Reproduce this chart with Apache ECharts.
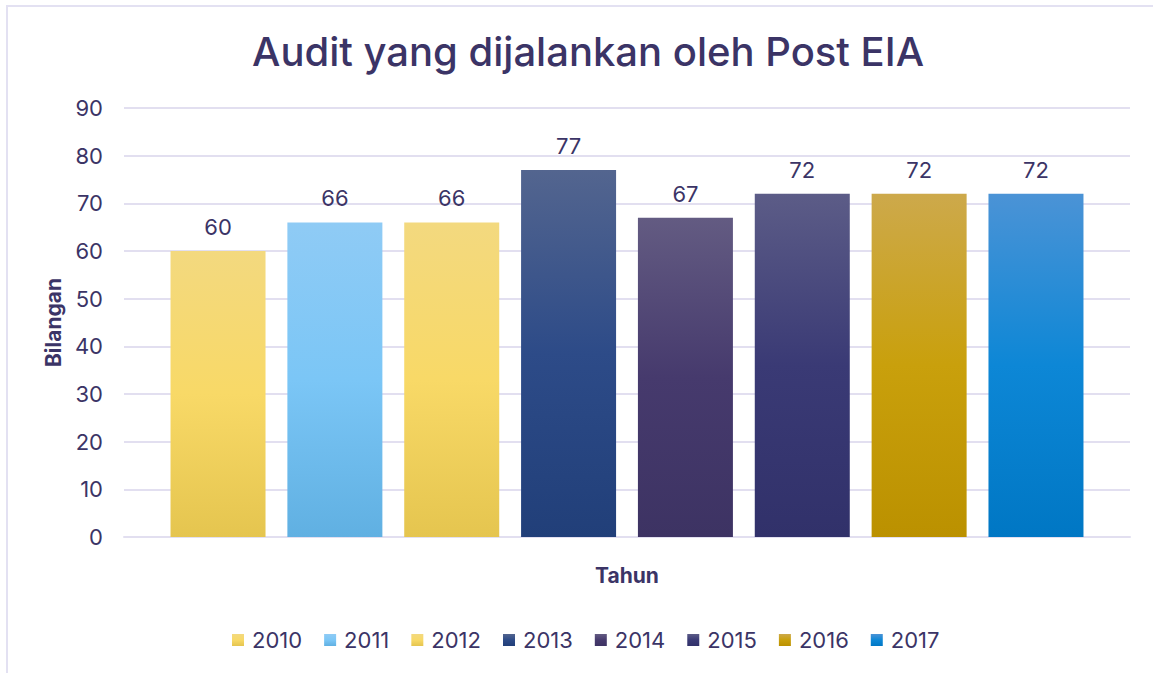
<!DOCTYPE html>
<html>
<head>
<meta charset="utf-8">
<script src="https://cdn.jsdelivr.net/npm/echarts@6/dist/echarts.min.js"></script>
<style>
  html, body { margin: 0; padding: 0; background: #ffffff; }
  #chart { width: 1153px; height: 673px; }
  #frame { position: absolute; left: 6px; top: 5px; width: 1200px; height: 700px;
           border-top: 2px solid #e3e1f2; border-left: 2px solid #e3e1f2; pointer-events: none; }
</style>
</head>
<body>
<div id="chart"></div>
<div id="frame"></div>
<script>
const years = ['2010', '2011', '2012', '2013', '2014', '2015', '2016', '2017'];
const values = [60, 66, 66, 77, 67, 72, 72, 72];
const yTicks = { min: 0, max: 90, interval: 10 };
const gradients = [
  ['#f3d97f', '#f8d967', '#e5c54f'],
  ['#8fcbf5', '#7bc6f6', '#60b0e2'],
  ['#f3d97f', '#f8d967', '#e5c54f'],
  ['#53658f', '#2d4b88', '#213f79'],
  ['#635b82', '#463a6d', '#3d3363'],
  ['#5c5c87', '#3a3a75', '#31316a'],
  ['#cda94b', '#c9a00c', '#bb9100'],
  ['#4b93d6', '#0d87d6', '#0077c4']
];

const textColor = '#3b3466';
const gridColor = '#e2dff0';
const font = 'Inter';

const chart = echarts.init(document.getElementById('chart'), null, { renderer: 'svg' });

const series = years.map((y, i) => ({
  name: y,
  type: 'bar',
  data: [values[i]],
  barWidth: 95,
  barGap: '23%',
  itemStyle: {
    color: new echarts.graphic.LinearGradient(0, 0, 0, 1, [
      { offset: 0, color: gradients[i][0] },
      { offset: 0.5, color: gradients[i][1] },
      { offset: 1, color: gradients[i][2] }
    ])
  },
  label: {
    show: true,
    position: 'top',
    distance: 13,
    fontSize: 22,
    color: textColor,
    fontFamily: font
  }
}));

chart.setOption({
  animation: false,
  textStyle: { fontFamily: font },
  title: {
    text: 'Audit yang dijalankan oleh Post EIA',
    left: 583,
    top: 26,
    textAlign: 'center',
    textStyle: { fontSize: 40, fontWeight: 500, color: textColor, fontFamily: font }
  },
  legend: {
    data: years,
    left: 227,
    top: 624,
    icon: 'rect',
    itemWidth: 12,
    itemHeight: 12,
    itemGap: 22,
    textStyle: { fontSize: 22, color: textColor, fontFamily: font, padding: [0, 0, 0, 3] }
  },
  grid: { left: 124, right: 23, top: 108, bottom: 136 },
  xAxis: {
    type: 'category',
    data: [''],
    name: 'Tahun',
    nameLocation: 'middle',
    nameGap: 28,
    nameTextStyle: { fontSize: 21, fontWeight: 'bold', color: textColor, fontFamily: font },
    axisLine: { lineStyle: { color: gridColor, width: 2 } },
    axisTick: { show: false },
    axisLabel: { show: false }
  },
  yAxis: {
    type: 'value',
    min: yTicks.min,
    max: yTicks.max,
    interval: yTicks.interval,
    name: 'Bilangan',
    nameLocation: 'middle',
    nameGap: 54,
    nameTextStyle: { fontSize: 21, fontWeight: 'bold', color: textColor, fontFamily: font },
    axisLine: { show: false },
    axisTick: { show: false },
    axisLabel: { fontSize: 22, color: textColor, margin: 21, fontFamily: font },
    splitLine: { lineStyle: { color: gridColor, width: 2 } }
  },
  series: series
});
</script>
</body>
</html>
